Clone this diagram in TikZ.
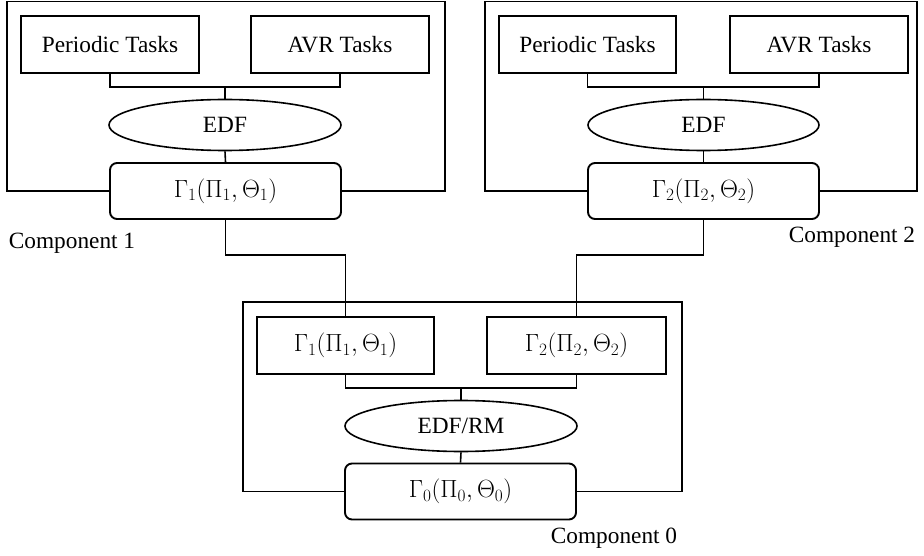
\documentclass[tikz,border=0pt]{standalone}
\usepackage{fontspec}
\setmainfont{Liberation Serif}
\usetikzlibrary{shapes.geometric}
\tikzset{
  every node/.style={font=\fontsize{23.3}{28}\selectfont, inner sep=0pt},
  taskbox/.style={draw, rectangle, minimum width=#1, minimum height=57pt},
  taskbox/.default=178pt,
  sched/.style={draw, ellipse, minimum width=#1, minimum height=51pt},
  sched/.default=232pt,
  iface/.style={draw, rectangle, rounded corners=7pt, line width=1.9pt, minimum width=231pt, minimum height=56pt},
}
\begin{document}
\begin{tikzpicture}[x=1pt, y=-1pt, line width=1.6pt]
\useasboundingbox (0,0) rectangle (924,556);
% Component 1
\node[taskbox] (p1) at (110,44.5) {Periodic Tasks};
\node[taskbox] (a1) at (340,44.5) {AVR Tasks};
\node[sched] (e1) at (225,125) {EDF};
\node[iface] (g1) at (225.5,191) {$\Gamma_1(\Pi_1,\Theta_1)$};
\coordinate (j1) at (225,87);
\draw (p1.south) |- (j1) -| (a1.south);
\draw (j1) -- (e1.north);
\draw (e1.south) -- (g1.north);
\draw (g1.west) -- (7,191) -- (7,1.5) -- (445,1.5) -- (445,191) -- (g1.east);
\node (l1) at (72,243) {Component 1};
% Component 2
\node[taskbox=177pt] (p2) at (587.5,44.5) {Periodic Tasks};
\node[taskbox] (a2) at (819,44.5) {AVR Tasks};
\node[sched=231pt] (e2) at (703.5,125) {EDF};
\node[iface] (g2) at (703.5,191) {$\Gamma_2(\Pi_2,\Theta_2)$};
\coordinate (j2) at (703.5,87);
\draw (p2.south) |- (j2) -| (a2.south);
\draw (j2) -- (e2.north);
\draw (e2.south) -- (g2.north);
\draw (g2.west) -- (485,191) -- (485,1.5) -- (917,1.5) -- (917,191) -- (g2.east);
\node (l2) at (852,237) {Component 2};
% Component 0
\node[taskbox=177pt] (lg1) at (345.5,345.5) {$\Gamma_1(\Pi_1,\Theta_1)$};
\node[taskbox=179pt] (lg2) at (576.5,345.5) {$\Gamma_2(\Pi_2,\Theta_2)$};
\node[sched] (e0) at (461,426) {EDF/RM};
\node[iface] (g0) at (460.5,491.5) {$\Gamma_0(\Pi_0,\Theta_0)$};
\coordinate (j0) at (461,388);
\draw (lg1.south) |- (j0) -| (lg2.south);
\draw (j0) -- (e0.north);
\draw (e0.south) -- (g0.north);
\draw (g0.west) -- (243,491.5) -- (243,302) -- (682,302) -- (682,491.5) -- (g0.east);
\node (l0) at (614,538) {Component 0};
% links between components
\coordinate (c1) at (285,255);
\coordinate (c2) at (640,255);
\draw (g1.south) |- (c1) -| (lg1.north);
\draw (g2.south) |- (c2) -| (lg2.north);
\end{tikzpicture}
\end{document}
